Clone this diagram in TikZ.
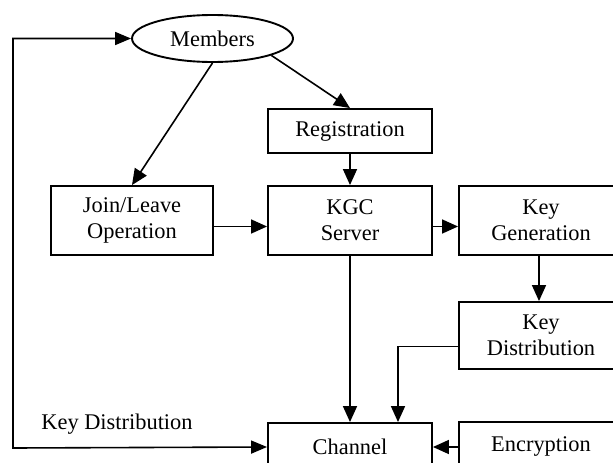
\documentclass[tikz,border=0pt]{standalone}
\usepackage{fontspec}
\setmainfont{Liberation Serif}
\usetikzlibrary{shapes.geometric,arrows.meta}
\begin{document}
\begin{tikzpicture}[x=1pt,y=-1pt,
  every node/.style={font=\fontsize{22.4}{26}\selectfont, align=center, inner sep=0pt},
  box/.style={draw, line width=1.9pt, minimum width=164pt},
  arr/.style={line width=1.6pt, -{Triangle[length=16pt,width=14pt]}},
  arrboth/.style={line width=1.6pt, {Triangle[length=16pt,width=13pt]}-{Triangle[length=16pt,width=13pt]}}]
\useasboundingbox (0,0) rectangle (613,463);
\node[draw, line width=1.9pt, ellipse, minimum width=161pt, minimum height=47pt] (members) at (212.5,38.5) {Members};
\node[box, minimum height=44pt] (reg) at (350,131) {Registration};
\node[box, minimum height=69pt] (kgc) at (350,220.5) {KGC\\Server};
\node[box, minimum width=162pt, minimum height=69pt] (join) at (132,220.5) {Join/Leave\\Operation};
\node[box, minimum height=69pt] (keygen) at (541,220.5) {Key\\Generation};
\node[box, minimum height=67pt] (keydist) at (541,335.5) {Key\\Distribution};
\node[box, minimum height=48pt] (channel) at (350,447) {Channel};
\node[box, minimum height=48pt] (enc) at (541,446) {Encryption};
\node (kdlabel) at (117,424) {Key Distribution};
\coordinate (lb) at (13,448);
\draw[arrboth] (members.west) -| (lb) -- (channel.west);
\draw[arr] (members.-16) -- (reg.north);
\draw[arr] (members.south) -- (join.north);
\draw[arr] (reg.south) -- (kgc.north);
\draw[arr] ([yshift=-6pt]join.east) -- ([yshift=-6pt]kgc.west);
\draw[arr] ([yshift=-6pt]kgc.east) -- ([yshift=-6pt]keygen.west);
\draw[arr] ([xshift=-2pt]keygen.south) -- ([xshift=-2pt]keydist.north);
\draw[arr] (kgc.south) -- (channel.north);
\draw[arr] ([yshift=-11pt]keydist.west) -| ([xshift=48pt]channel.north);
\draw[arr] (channel.east -| enc.west) -- (channel.east);
\end{tikzpicture}
\end{document}
